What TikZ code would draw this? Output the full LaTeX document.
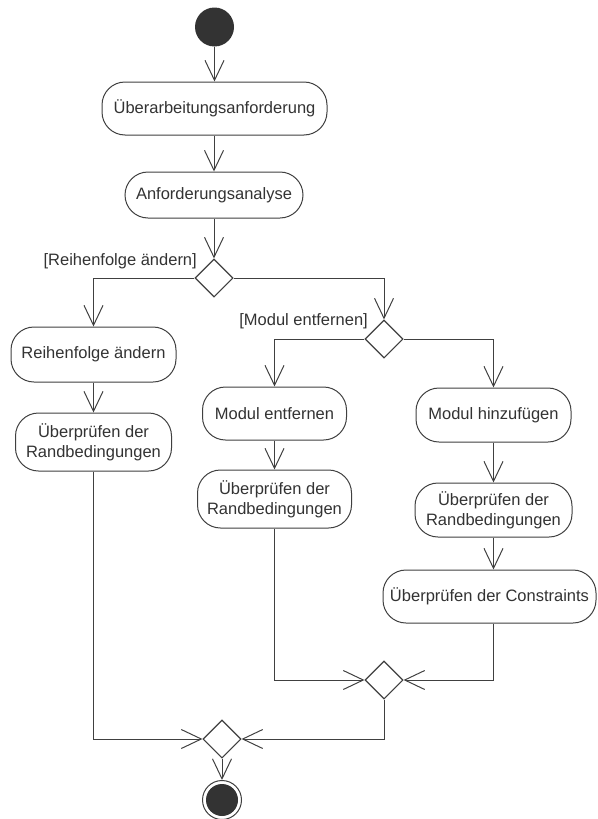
\documentclass[tikz,border=0pt]{standalone}
\usepackage{fontspec}
\setmainfont{Liberation Sans}
\usetikzlibrary{arrows.meta,shapes.geometric}
\definecolor{ink}{HTML}{333333}
\definecolor{stroke}{HTML}{404040}
\begin{document}
\begin{tikzpicture}[x=1pt,y=-1pt,
  every node/.style={text=ink,font=\fontsize{16.5}{20}\selectfont},
  action/.style={draw=stroke,line width=1pt,rounded corners=23pt,
    align=center,inner sep=0pt,fill=white},
  branch/.style={draw=stroke,line width=1.1pt,diamond,aspect=1,
    minimum width=38pt,minimum height=38pt,inner sep=0pt,fill=white},
  flow/.style={draw=stroke,line width=1pt,
    -{Straight Barb[length=20pt,width=19pt,line width=1pt]}},
  guard/.style={anchor=base east,inner sep=0pt}]
\useasboundingbox (0,0) rectangle (597,819);

% start and end states
\node[circle,fill=ink,minimum size=39pt,inner sep=0pt] (start) at (214.5,27) {};
\node[circle,draw=stroke,line width=1pt,minimum size=39pt,inner sep=0pt] (finish) at (222,800) {};
\fill[ink] (finish) circle (16pt);

% actions
\node[action,minimum width=225pt,minimum height=53pt] (req) at (214.5,108.5) {Überarbeitungsanforderung};
\node[action,minimum width=178pt,minimum height=46pt] (ana) at (214,195) {Anforderungsanalyse};
\node[action,minimum width=165pt,minimum height=55pt] (reorder) at (93.5,354.5) {Reihenfolge ändern};
\node[action,minimum width=156pt,minimum height=58pt] (checkL) at (93.5,442) {Überprüfen der\\Randbedingungen};
\node[action,minimum width=144pt,minimum height=53pt] (remove) at (274.5,413.5) {Modul entfernen};
\node[action,minimum width=154pt,minimum height=58pt] (checkM) at (274.5,499) {Überprüfen der\\Randbedingungen};
\node[action,minimum width=155pt,minimum height=54pt] (add) at (493.5,415) {Modul hinzufügen};
\node[action,minimum width=157pt,minimum height=54pt] (checkR) at (493.5,510) {Überprüfen der\\Randbedingungen};
\node[action,minimum width=213pt,minimum height=53pt] (constr) at (489.5,596.5) {Überprüfen der Constraints};

% decisions and merges
\node[branch] (d1) at (214,278) {};
\node[branch] (d2) at (384,339) {};
\node[branch] (m1) at (384,680) {};
\node[branch] (m2) at (222,739) {};

% guards
\node[guard] (g1) at (197,265) {[Reihenfolge ändern]};
\node[guard] (g2) at (368,325) {[Modul entfernen]};

% control flow
\draw[flow] (start.south) -- (start.south |- req.north);
\draw[flow] (req.south -| ana) -- (ana.north);
\draw[flow] (ana.south -| d1) -- (d1.north);
\draw[flow] (d1.west) -| (reorder.north);
\draw[flow] (d1.east) -| (d2.north);
\draw[flow] (d2.west) -| (remove.north);
\draw[flow] (d2.east) -| (add.north);
\draw[flow] (reorder) -- (checkL);
\draw[flow] (remove) -- (checkM);
\draw[flow] (add) -- (checkR);
\draw[flow] (checkR.south) -- (checkR.south |- constr.north);
\draw[flow] (checkM.south) |- (m1.west);
\draw[flow] (constr.south -| checkR) |- (m1.east);
\draw[flow] (checkL.south) |- (m2.west);
\draw[flow] (m1.south) |- (m2.east);
\draw[flow] (m2.south) -- (finish.north);
\end{tikzpicture}
\end{document}
